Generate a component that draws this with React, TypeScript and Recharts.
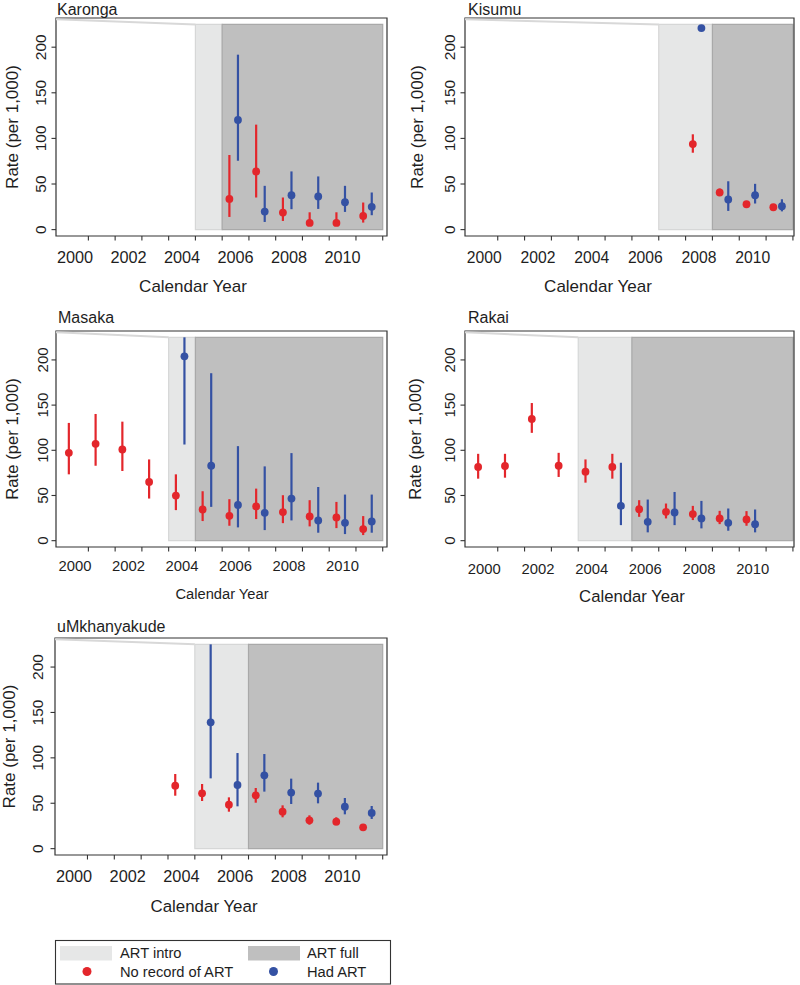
import React from 'react';
import { ComposedChart, Scatter, XAxis, YAxis, ReferenceArea, ReferenceLine, ErrorBar } from 'recharts';

const FONT = '"Liberation Sans", Arial, Helvetica, sans-serif';
const TEXT = '#1e1e1e';
const AX = '#333333';
const RED = '#e3262b';
const BLUE = '#3451a3';
const LIGHT = '#e6e7e7';
const DARK = '#bfbfbf';

// axis tick data
const yearLabels = ['2000', '2002', '2004', '2006', '2008', '2010'];
const labelYears = [2000, 2002, 2004, 2006, 2008, 2010];
const tickYears = [2001, 2002, 2003, 2004, 2005, 2006, 2007, 2008, 2009, 2010, 2011, 2012];
const yTicks = [0, 50, 100, 150, 200];
const Y_MIN = -7;
const Y_MAX = 232;
const SHADE_TOP = 225;
const SHADE_END = 2012;
const NO_ART_OFFSET = 0.27;
const ART_OFFSET = 0.59;

// Karonga
const karongaNoArtYears = [2006, 2007, 2008, 2009, 2010, 2011];
const karongaNoArtRate = [33.7, 63.8, 18.7, 7.3, 7.3, 15];
const karongaNoArtLo = [13.9, 35.2, 9.5, 4, 4, 7.7];
const karongaNoArtHi = [81.8, 115.1, 35.2, 19, 19, 29.7];
const karongaArtYears = [2006, 2007, 2008, 2009, 2010, 2011];
const karongaArtRate = [120.3, 19.8, 37.8, 36.3, 30, 25];
const karongaArtLo = [75.5, 8.4, 22.4, 22.7, 19.4, 15.8];
const karongaArtHi = [191.8, 48, 63.8, 58.3, 48, 40.7];

// Kisumu
const kisumuNoArtYears = [2008, 2009, 2010, 2011];
const kisumuNoArtRate = [93.8, 40.7, 27.8, 24.5];
const kisumuNoArtLo = [84.3, 37, 25.5, 22.5];
const kisumuNoArtHi = [104.5, 45, 30, 26.5];
const kisumuArtYears = [2008, 2009, 2010, 2011];
const kisumuArtRate = [221, 33, 37.7, 25.6];
const kisumuArtLo = [221, 20.5, 28.6, 20];
const kisumuArtHi = [221, 53, 50.2, 33.3];

// Masaka
const masakaNoArtYears = [2000, 2001, 2002, 2003, 2004, 2005, 2006, 2007, 2008, 2009, 2010, 2011];
const masakaNoArtRate = [97.2, 107.2, 100.9, 65, 49.9, 34.5, 27.5, 37.8, 31.6, 26.8, 25.7, 12.8];
const masakaNoArtLo = [73.4, 82.9, 77.1, 46.6, 33.8, 21.7, 16.5, 23.9, 19.4, 15.8, 13.9, 6.2];
const masakaNoArtHi = [130.3, 140.2, 131.7, 89.9, 73.4, 54.7, 45.9, 57.6, 50.3, 44.8, 42.9, 27.2];
const masakaArtYears = [2004, 2005, 2006, 2007, 2008, 2009, 2010, 2011];
const masakaArtRate = [204, 82.9, 39.6, 30.8, 46.6, 22.4, 19.8, 21.3];
const masakaArtLo = [106.4, 37.4, 14.7, 11.7, 22.4, 8.8, 7.3, 8.8];
const masakaArtHi = [225, 185.3, 104.6, 82.2, 96.9, 59.4, 51, 51];

// Rakai
const rakaiNoArtYears = [2000, 2001, 2002, 2003, 2004, 2005, 2006, 2007, 2008, 2009, 2010];
const rakaiNoArtRate = [81.5, 82.6, 134.7, 82.9, 76.3, 81.5, 34.9, 31.9, 29.4, 24.6, 23.5];
const rakaiNoArtLo = [68.6, 69.7, 119.3, 70.5, 64.2, 68.6, 26.4, 24.6, 22.8, 18.3, 16.5];
const rakaiNoArtHi = [96.1, 96.1, 152.3, 97.2, 89.9, 96.1, 44.8, 41.1, 38.5, 33, 32.7];
const rakaiArtYears = [2005, 2006, 2007, 2008, 2009, 2010];
const rakaiArtRate = [38.5, 20.9, 31.2, 24.6, 19.8, 18.3];
const rakaiArtLo = [17.2, 9.2, 17.2, 13.6, 11, 9.2];
const rakaiArtHi = [86.2, 45.5, 53.9, 44, 35.6, 34.5];

// uMkhanyakude
const umkNoArtYears = [2004, 2005, 2006, 2007, 2008, 2009, 2010, 2011];
const umkNoArtRate = [69.4, 60.9, 48.4, 58.7, 40.7, 31.2, 29.7, 23.5];
const umkNoArtLo = [58.3, 52.5, 40.7, 50.6, 34.5, 26.4, 25.7, 20.2];
const umkNoArtHi = [82.2, 71.2, 56.5, 66.8, 47.7, 36.7, 34.5, 26.4];
const umkArtYears = [2005, 2006, 2007, 2008, 2009, 2010, 2011];
const umkArtRate = [139.1, 70.1, 80.7, 61.7, 60.6, 46.2, 39.3];
const umkArtLo = [77.4, 46.6, 62.8, 49.2, 49.9, 37.8, 32.7];
const umkArtHi = [225, 105.3, 104.2, 77.1, 72.7, 55.8, 47];

function rows(years: number[], rate: number[], lo: number[], hi: number[], off: number) {
  return years.map((yr, i) => ({ x: yr + off, y: rate[i], err: [rate[i] - lo[i], hi[i] - rate[i]] }));
}

type P = {
  title: string; left: number; top: number; w: number; h: number;
  mTop: number; mRight: number; yW: number; xH: number; xDom: [number, number];
  intro: number; full: number; noArt: any[]; art: any[];
  xFs: number; xOff: number; yFs: number; yOff: number;
  titleX: number; titleY: number;
  calX: number; calY: number; calFs: number;
  rateX: number; rateY: number; rateFs: number;
};

const LEFT_DOM: [number, number] = [1999.79, 2012.16];
const RIGHT_DOM: [number, number] = [1999.78, 2012.04];

const panels: P[] = [
  {
    title: 'Karonga', left: 0, top: 0, w: 400, h: 310, mTop: 18, mRight: 13, yW: 56, xH: 74, xDom: LEFT_DOM,
    intro: 2005, full: 2006,
    noArt: rows(karongaNoArtYears, karongaNoArtRate, karongaNoArtLo, karongaNoArtHi, NO_ART_OFFSET),
    art: rows(karongaArtYears, karongaArtRate, karongaArtLo, karongaArtHi, ART_OFFSET),
    xFs: 16.3, xOff: 27, yFs: 15.5, yOff: 9.5, titleX: 57, titleY: 14.5, calX: 193, calY: 292, calFs: 17,
    rateX: 12, rateY: 127, rateFs: 17,
  },
  {
    title: 'Kisumu', left: 400, top: 0, w: 400, h: 310, mTop: 18, mRight: 6, yW: 65, xH: 74, xDom: RIGHT_DOM,
    intro: 2007, full: 2009,
    noArt: rows(kisumuNoArtYears, kisumuNoArtRate, kisumuNoArtLo, kisumuNoArtHi, NO_ART_OFFSET),
    art: rows(kisumuArtYears, kisumuArtRate, kisumuArtLo, kisumuArtHi, ART_OFFSET),
    xFs: 15.7, xOff: 27, yFs: 15.5, yOff: 10, titleX: 468, titleY: 14.5, calX: 598, calY: 292, calFs: 17,
    rateX: 417, rateY: 127, rateFs: 17,
  },
  {
    title: 'Masaka', left: 0, top: 310, w: 400, h: 310, mTop: 21, mRight: 13, yW: 56, xH: 73, xDom: LEFT_DOM,
    intro: 2004, full: 2005,
    noArt: rows(masakaNoArtYears, masakaNoArtRate, masakaNoArtLo, masakaNoArtHi, NO_ART_OFFSET),
    art: rows(masakaArtYears, masakaArtRate, masakaArtLo, masakaArtHi, ART_OFFSET),
    xFs: 14.8, xOff: 23.5, yFs: 15, yOff: 7.5, titleX: 58, titleY: 323, calX: 222, calY: 598.5, calFs: 14.7,
    rateX: 12, rateY: 439, rateFs: 16.7,
  },
  {
    title: 'Rakai', left: 400, top: 310, w: 400, h: 310, mTop: 21, mRight: 6, yW: 65, xH: 73, xDom: RIGHT_DOM,
    intro: 2004, full: 2006,
    noArt: rows(rakaiNoArtYears, rakaiNoArtRate, rakaiNoArtLo, rakaiNoArtHi, NO_ART_OFFSET),
    art: rows(rakaiArtYears, rakaiArtRate, rakaiArtLo, rakaiArtHi, ART_OFFSET),
    xFs: 14.8, xOff: 26.5, yFs: 15, yOff: 10, titleX: 468, titleY: 323, calX: 632, calY: 601.5, calFs: 16.7,
    rateX: 415, rateY: 439, rateFs: 16.7,
  },
  {
    title: 'uMkhanyakude', left: 0, top: 620, w: 400, h: 310, mTop: 18, mRight: 13, yW: 55, xH: 75, xDom: LEFT_DOM,
    intro: 2005, full: 2007,
    noArt: rows(umkNoArtYears, umkNoArtRate, umkNoArtLo, umkNoArtHi, NO_ART_OFFSET),
    art: rows(umkArtYears, umkArtRate, umkArtLo, umkArtHi, ART_OFFSET),
    xFs: 16.3, xOff: 26.7, yFs: 15.5, yOff: 12, titleX: 57, titleY: 632, calX: 204, calY: 911.5, calFs: 16.9,
    rateX: 9, rateY: 746.5, rateFs: 17,
  },
];

const xTickValues = [...tickYears, ...labelYears.map((y) => y + 0.5)].sort((a, b) => a - b);
const labelMap = new Map<number, string>(labelYears.map((y, i) => [y + 0.5, yearLabels[i]]));

function Panel({ p }: { p: P }) {
  const XTick = (props: any) => {
    const { x, y, payload } = props;
    const lab = labelMap.get(payload.value);
    if (lab !== undefined) {
      return (
        <text x={x} y={y + p.xOff} textAnchor="middle" fontSize={p.xFs} fontFamily={FONT} fill={TEXT}>{lab}</text>
      );
    }
    return <line x1={x} x2={x} y1={y} y2={y + 4.5} stroke={AX} strokeWidth={1.1} />;
  };
  const YTick = (props: any) => {
    const { x, y, payload } = props;
    const tx = x - p.yOff;
    return (
      <g>
        <line x1={x - 4.5} x2={x} y1={y} y2={y} stroke={AX} strokeWidth={1.1} />
        <text x={tx} y={y} transform={`rotate(-90, ${tx}, ${y})`} textAnchor="middle" fontSize={p.yFs} fontFamily={FONT} fill={TEXT}>{payload.value}</text>
      </g>
    );
  };
  const dot = (color: string) => (s: any) => <circle cx={s.cx} cy={s.cy} r={3.9} fill={color} />;
  return (
    <div style={{ position: 'absolute', left: p.left, top: p.top }}>
      <ComposedChart width={p.w} height={p.h} margin={{ top: p.mTop, right: p.mRight, bottom: 0, left: 0 }}>
        <XAxis type="number" dataKey="x" domain={p.xDom} allowDataOverflow ticks={xTickValues} interval={0}
          tick={XTick} tickLine={false} axisLine={false} tickSize={0} tickMargin={0} height={p.xH} />
        <YAxis type="number" dataKey="y" domain={[Y_MIN, Y_MAX]} allowDataOverflow ticks={yTicks} interval={0}
          tick={YTick} tickLine={false} axisLine={false} tickSize={0} tickMargin={0} width={p.yW} />
        <ReferenceArea x1={p.intro} x2={p.full} y1={0} y2={SHADE_TOP} fill={LIGHT} fillOpacity={1}
          stroke="#d6d7d7" strokeWidth={1.2} ifOverflow="visible" />
        <ReferenceArea x1={p.full} x2={SHADE_END} y1={0} y2={SHADE_TOP} fill={DARK} fillOpacity={1}
          stroke="#a9a9a9" strokeWidth={1.2} ifOverflow="visible" />
        <ReferenceLine segment={[{ x: p.xDom[0], y: 230.5 }, { x: p.intro, y: SHADE_TOP }]}
          stroke="#d8d8d8" strokeWidth={2} ifOverflow="visible" />
        <ReferenceArea x1={p.xDom[0]} x2={p.xDom[1]} y1={Y_MIN} y2={Y_MAX} fill="none" fillOpacity={0}
          stroke={AX} strokeWidth={1.2} ifOverflow="visible" />
        <Scatter data={p.noArt} dataKey="y" fill={RED} shape={dot(RED)} isAnimationActive={false}>
          <ErrorBar dataKey="err" direction="y" width={0} stroke={RED} strokeWidth={2.2} isAnimationActive={false} />
        </Scatter>
        <Scatter data={p.art} dataKey="y" fill={BLUE} shape={dot(BLUE)} isAnimationActive={false}>
          <ErrorBar dataKey="err" direction="y" width={0} stroke={BLUE} strokeWidth={2.2} isAnimationActive={false} />
        </Scatter>
      </ComposedChart>
    </div>
  );
}

export default function App() {
  return (
    <div style={{ position: 'absolute', left: 0, top: 0, width: 800, height: 985, background: '#fff', overflow: 'hidden' }}>
      {panels.map((p) => <Panel key={p.title} p={p} />)}
      <svg width={800} height={985} style={{ position: 'absolute', left: 0, top: 0, pointerEvents: 'none' }}>
        {panels.map((p) => (
          <g key={p.title} fontFamily={FONT} fill={TEXT}>
            <text x={p.titleX} y={p.titleY} fontSize={16}>{p.title}</text>
            <text x={p.calX} y={p.calY} fontSize={p.calFs} textAnchor="middle">Calendar Year</text>
            <text transform={`translate(${p.rateX}, ${p.rateY}) rotate(-90)`} fontSize={p.rateFs}
              textAnchor="middle" dominantBaseline="central">Rate (per 1,000)</text>
          </g>
        ))}
        <g fontFamily={FONT} fill={TEXT} fontSize={14.7}>
          <rect x={55.5} y={940.5} width={335} height={43.5} fill="#fff" stroke={AX} strokeWidth={1.1} />
          <rect x={60} y={946} width={52} height={14.5} fill={LIGHT} />
          <text x={120} y={958}>ART intro</text>
          <rect x={248} y={946} width={52} height={14.5} fill={DARK} />
          <text x={307} y={958}>ART full</text>
          <circle cx={87} cy={971.5} r={4.5} fill={RED} />
          <text x={120} y={977}>No record of ART</text>
          <circle cx={273.5} cy={971.5} r={4.5} fill={BLUE} />
          <text x={307} y={977}>Had ART</text>
        </g>
      </svg>
    </div>
  );
}
